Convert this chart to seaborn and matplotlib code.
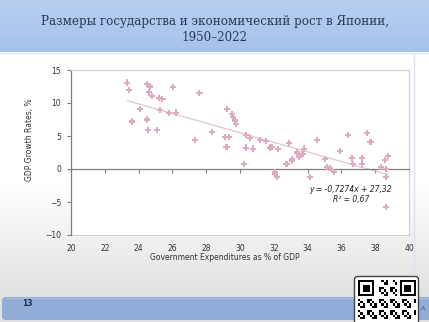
import numpy as np
import pandas as pd
import matplotlib
matplotlib.use("Agg")
import matplotlib.pyplot as plt
import seaborn as sns
from matplotlib.patches import FancyBboxPatch

# ---------------- data ----------------
title_text = "Размеры государства и экономический рост в Японии,\n1950–2022"
x_label = "Government Expenditures as % of GDP"
y_label = "GDP Growth Rates, %"
page_number = "13"

gov_exp = [23.32, 23.43, 23.6, 24.07, 24.48, 24.66, 24.6, 24.78, 24.5, 24.54,
           25.1, 25.19, 25.41, 25.27, 25.78, 26.02, 26.2, 27.32, 27.6, 28.34,
           29.23, 29.53, 29.59, 29.7, 29.78, 29.1, 29.35, 29.2, 30.22, 30.38,
           30.57, 30.34, 30.77, 31.18, 31.52, 31.76, 31.87, 32.23, 32.9, 32.75,
           33.06, 33.1, 33.47, 32.05, 32.09, 32.17, 33.38, 33.5, 33.7, 33.79,
           34.12, 34.56, 35.01, 35.17, 35.3, 35.45, 35.56, 35.94, 36.39, 36.65,
           36.69, 37.24, 37.22, 37.5, 37.72, 38.35, 38.62, 38.6, 38.78, 38.64,
           38.66]
gdp_growth = [13.1, 12.0, 7.2, 9.1, 12.85, 12.5, 11.6, 11.05, 7.5, 5.85,
              5.85, 10.7, 10.6, 8.9, 8.45, 12.45, 8.55, 4.35, 11.55, 5.6,
              9.05, 8.3, 7.9, 7.35, 6.8, 4.8, 4.8, 3.35, 0.8, 5.2,
              4.7, 3.25, 3.1, 4.45, 4.2, 3.25, 3.35, 3.05, 3.95, 0.8,
              1.2, 1.45, 1.8, -0.4, -0.8, -1.25, 2.5, 1.95, 2.25, 3.1,
              -1.25, 4.35, 1.5, 0.35, 0.1, -0.15, -0.4, 2.7, 5.2, 1.6,
              0.7, 1.6, 0.7, 5.45, 4.05, 0.25, 0.0, 1.4, 2.0, -1.2,
              -5.7]
trend_slope = -0.7274
trend_intercept = 27.32
r_squared = 0.67
equation_text = "y = -0,7274x + 27,32\nR² = 0,67"
x_ticks = [20, 22, 24, 26, 28, 30, 32, 34, 36, 38, 40]
y_ticks = [-10, -5, 0, 5, 10, 15]

# ---------------- style ----------------
sns.set_theme(style="white")
plt.rcParams["font.family"] = ["DejaVu Sans"]

W, H = 429, 322
fig = plt.figure(figsize=(W / 100, H / 100), dpi=100)

# background (slide)
bg = fig.add_axes([0, 0, 1, 1])
bg.set_xlim(0, W)
bg.set_ylim(H, 0)
bg.axis("off")
rows = np.arange(H)
t = np.clip((rows - 185) / (297 - 185), 0, 1)
top_c = np.array([1.0, 1.0, 1.0])
bot_c = np.array([0.88, 0.88, 0.88])
img = (1 - t)[:, None] * top_c + t[:, None] * bot_c
img = np.repeat(img[:, None, :], 2, axis=1)
bg.imshow(img, extent=[0, W, H, 0], aspect="auto", zorder=0)

# title band
tb = np.linspace(0, 1, 60)[:, None]
c1 = np.array([0.72, 0.81, 0.94])
c2 = np.array([0.65, 0.76, 0.92])
band = (1 - tb) * c1 + tb * c2
band = np.repeat(band[:, None, :], 2, axis=1)
bg.imshow(band, extent=[0, W, 52, 0], aspect="auto", zorder=1)
bg.plot([0, W], [52.5, 52.5], color="#dfe8f5", lw=1, zorder=2)

# right light border line
bg.plot([414, 414], [53, 297], color="#d6e4f4", lw=1, zorder=1)

# bottom band
bb = FancyBboxPatch((2, 297), W + 10, 23, boxstyle="round,pad=0,rounding_size=4",
                    facecolor="#91acd7", edgecolor="none", zorder=2)
bg.add_patch(bb)
bg.plot([6, W], [297.5, 297.5], color="#a9c0e2", lw=1, zorder=3)
bg.text(22, 303, page_number, fontsize=5.5, fontweight="bold", color="#1f2d50",
        ha="left", va="center", zorder=4)
bg.text(423, 309, "A", fontsize=4.5, color="#3b4f7a", ha="center", va="center", zorder=4)

# QR-like decoration
qr = FancyBboxPatch((354.5, 276.5), 64, 60, boxstyle="round,pad=0,rounding_size=3",
                    facecolor="white", edgecolor="#444444", lw=1.0, zorder=5)
bg.add_patch(qr)
n = 25
ii, jj = np.meshgrid(np.arange(n), np.arange(n), indexing="ij")
pat = (((ii * 7 + jj * 13 + ii * jj) % 5) < 2).astype(float)
for (r0, c0) in [(0, 0), (0, n - 7)]:
    pat[r0:r0 + 7, c0:c0 + 7] = 1
    pat[r0 + 1:r0 + 6, c0 + 1:c0 + 6] = 0
    pat[r0 + 2:r0 + 5, c0 + 2:c0 + 5] = 1
    pat[r0:r0 + 8, c0 - 1 if c0 > 0 else 7] = 0
    pat[7, c0:c0 + 7] = 0
qimg = np.repeat((1 - pat)[:, :, None], 3, axis=2)
bg.imshow(qimg, extent=[358, 416, 338, 280], aspect="auto", zorder=6,
          interpolation="nearest")

# title
fig.text(215 / W, 1 - 29.5 / H, title_text, family="DejaVu Serif", fontsize=8.6,
         color="#2d3a5a", ha="center", va="center", linespacing=1.35)

# ---------------- chart ----------------
ax = fig.add_axes([71 / W, 1 - 235 / H, (409 - 71) / W, (235 - 70) / H])
ax.set_facecolor("white")

df = pd.DataFrame({"gov": gov_exp, "gdp": gdp_growth})
xs = np.array([df["gov"].min(), df["gov"].max()])
trend = pd.DataFrame({"gov": xs, "gdp": trend_slope * xs + trend_intercept})
sns.lineplot(data=trend, x="gov", y="gdp", ax=ax, color="#dcc8d1", lw=0.9, zorder=2)
sns.scatterplot(data=df, x="gov", y="gdp", ax=ax, marker="P", s=20,
                color="#dcaac3", edgecolor="none", linewidth=0, zorder=3)

ax.set_xlim(20, 40)
ax.set_ylim(-10, 15)
ax.set_xticks(x_ticks)
ax.set_yticks(y_ticks)

axis_col = "#7f7f7f"
frame_col = "#d2d2d2"
ax.spines["left"].set_color(axis_col)
ax.spines["left"].set_linewidth(0.9)
ax.spines["bottom"].set_position(("data", 0))
ax.spines["bottom"].set_color(axis_col)
ax.spines["bottom"].set_linewidth(0.9)
for s in ("top", "right"):
    ax.spines[s].set_color(frame_col)
    ax.spines[s].set_linewidth(0.9)

ax.tick_params(axis="x", bottom=True, length=3, width=0.8, color=axis_col,
               direction="out", labelbottom=False)
ax.tick_params(axis="y", left=True, length=3, width=0.8, color=axis_col,
               direction="out", labelsize=5.5, labelcolor="#333333", pad=4)
ax.set_xlabel("")

secx = ax.secondary_xaxis("bottom")
secx.set_xticks(x_ticks)
secx.spines["bottom"].set_color(frame_col)
secx.spines["bottom"].set_linewidth(0.9)
secx.tick_params(length=0, labelsize=5.5, labelcolor="#333333", pad=6.5)
secx.set_xlabel(x_label, fontsize=5.5, color="#333333")
secx.xaxis.set_label_coords((224.5 - 71) / 338, (235 - 253) / 165,
                            transform=ax.transAxes)

ax.set_ylabel(y_label, fontsize=5.5, color="#333333")
ax.yaxis.set_label_coords((34 - 71) / 338, (235 - 140) / 165)

ax.text(36.55, -3.85, equation_text, fontsize=5.5,
        style="italic", color="#222222", ha="center", va="center",
        multialignment="center", linespacing=1.2)

fig.savefig("out.png", dpi=100)
